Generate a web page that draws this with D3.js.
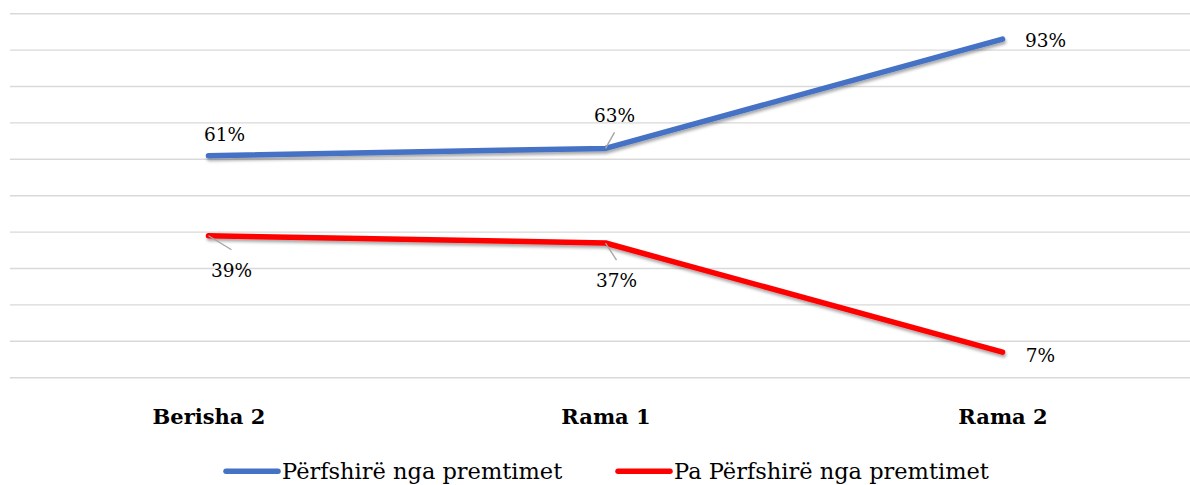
<!DOCTYPE html>
<html><head><meta charset="utf-8">
<script src="https://cdn.jsdelivr.net/npm/d3@7"></script>
<style>
html,body{margin:0;padding:0;background:#fff;}
svg{display:block;}
</style></head>
<body>
<svg id="chart" width="1190" height="485"></svg>
<script>
const categories = ["Berisha 2", "Rama 1", "Rama 2"];
const seriesNames = ["Përfshirë nga premtimet", "Pa Përfshirë nga premtimet"];
const includedValues = [61, 63, 93];
const notIncludedValues = [39, 37, 7];
const yTicks = [0,10,20,30,40,50,60,70,80,90,100];

const colors = ["#4472C4", "#FF0000"];
// label offsets (pixels) from each point: [dx, dy-baseline, leader?]
const labelOffsets = [
  [[16,-15,false],[9,-26,true],[43,8,false]],
  [[23,41,true],[11,44,true],[38,10,false]]
];

const svg = d3.select("#chart");
const defs = svg.append("defs");
const f = defs.append("filter").attr("id","shadow").attr("x","-10%").attr("y","-50%").attr("width","120%").attr("height","200%");
f.append("feDropShadow").attr("dx",1).attr("dy",2.5).attr("stdDeviation",1.6).attr("flood-color","#000").attr("flood-opacity",0.35);

const x = d3.scalePoint().domain(categories).range([10,1201]).padding(0.5);
const y = d3.scaleLinear().domain([0,100]).range([377.7,13.7]);

// gridlines
svg.append("g").selectAll("line").data(yTicks).join("line")
  .attr("x1",10).attr("x2",1201)
  .attr("y1",d=>y(d)).attr("y2",d=>y(d))
  .attr("stroke","#d9d9d9").attr("stroke-width",1.4);

// category axis
const xAxis = svg.append("g").attr("transform","translate(0,377.7)")
  .call(d3.axisBottom(x).tickSize(0).tickPadding(0));
xAxis.select(".domain").remove();
xAxis.selectAll("text")
  .attr("y",46).attr("dy",0)
  .attr("font-family","'DejaVu Serif', serif")
  .attr("font-weight","bold").attr("font-size","21px").attr("fill","#000");

const series = [includedValues, notIncludedValues];
const line = d3.line().x((d,i)=>x(categories[i])).y(d=>y(d));

series.forEach((vals,si)=>{
  svg.append("path").datum(vals)
    .attr("d",line).attr("fill","none")
    .attr("stroke",colors[si]).attr("stroke-width",5.5)
    .attr("stroke-linecap","round").attr("stroke-linejoin","round")
    .attr("filter","url(#shadow)");
});

series.forEach((vals,si)=>{
  const g = svg.append("g");
  vals.forEach((v,i)=>{
    const px = x(categories[i]), py = y(v);
    const [dx,dy,leader] = labelOffsets[si][i];
    if(leader){
      const ly = dy<0 ? py+dy+10 : py+dy-27;
      const lx = px+dx;
      g.append("line").attr("x1",px).attr("y1",py).attr("x2",lx).attr("y2",ly)
        .attr("stroke","#a6a6a6").attr("stroke-width",1.4);
    }
    g.append("text").attr("x",px+dx).attr("y",py+dy)
      .attr("text-anchor","middle")
      .attr("font-family","'DejaVu Serif', serif").attr("font-size","18.5px")
      .attr("fill","#000").text(v+"%");
  });
});

// legend
const legendX = [226, 618];
const legend = svg.append("g");
seriesNames.forEach((n,si)=>{
  legend.append("line").attr("x1",legendX[si]).attr("x2",legendX[si]+52)
    .attr("y1",471.3).attr("y2",471.3)
    .attr("stroke",colors[si]).attr("stroke-width",5.5).attr("stroke-linecap","round");
  legend.append("text").attr("x",legendX[si]+56).attr("y",478.5)
    .attr("font-family","'DejaVu Serif', serif").attr("font-size","22.5px")
    .attr("fill","#000").text(n);
});
</script>
</body></html>
